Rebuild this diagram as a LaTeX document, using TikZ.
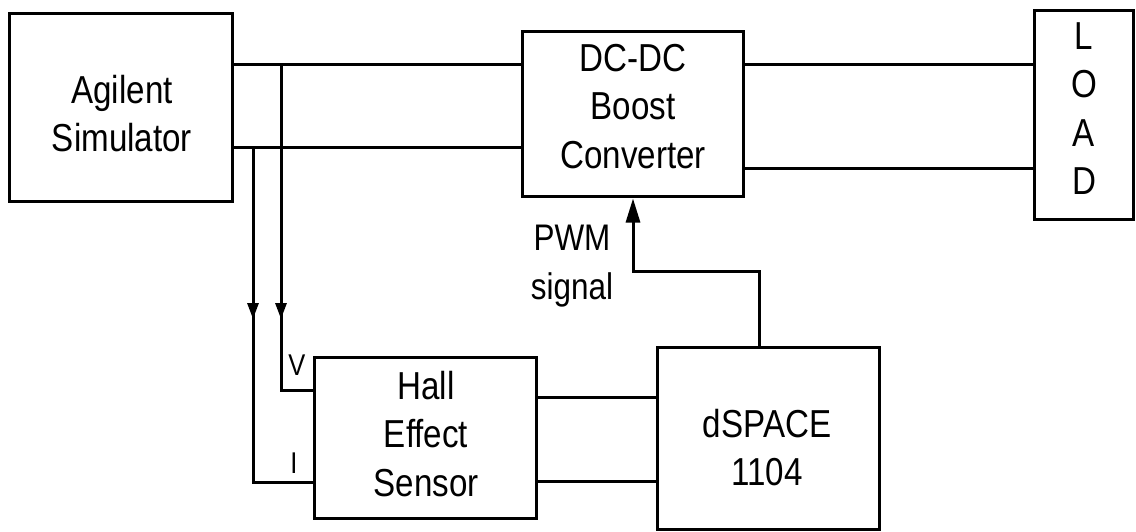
\documentclass[tikz,border=0pt]{standalone}
\usepackage{fontspec}
\setmainfont{Liberation Sans}[FakeStretch=0.85]
\usetikzlibrary{arrows.meta}
\begin{document}
\begin{tikzpicture}[x=1pt,y=-1pt,
  box/.style={draw,line width=3pt,inner sep=0pt},
  wire/.style={line width=3pt},
  lbl/.style={inner sep=0pt,align=center,font=\fontsize{39}{48.5}\selectfont},
  lbltwo/.style={inner sep=0pt,align=center,font=\fontsize{37}{49}\selectfont},
  small/.style={inner sep=0pt,font=\fontsize{30}{36}\selectfont},
  midarrow/.style={-{Triangle[length=16pt,width=11pt]}},
  pwmarrow/.style={-{Triangle[length=24pt,width=14pt]}}]
\useasboundingbox (0,0) rectangle (1136,532);
\fill[white] (0,0) rectangle (1136,532);

% boxes
\node[box,minimum width=223pt,minimum height=188pt] (ag) at (120.5,108) {};
\node[box,minimum width=221pt,minimum height=165pt] (dc) at (632.5,114.5) {};
\node[box,minimum width=99pt,minimum height=208pt] (load) at (1083.5,115) {};
\node[box,minimum width=222pt,minimum height=161pt] (hall) at (425,437.5) {};
\node[box,minimum width=222pt,minimum height=182pt] (dsp) at (768,438) {};

% texts
\node[lbl,anchor=north] (agT) at (122,75) {Agilent\\Simulator};
\node[lbl,anchor=north] (dcT) at (633,44) {DC-DC\\Boost\\Converter};
\node[lbl,anchor=north] (loadT) at (1084,22) {L\\O\\A\\D};
\node[lbl,anchor=north] (hallT) at (426,371) {Hall\\Effect\\Sensor};
\node[lbl,anchor=north] (dspT) at (767,409) {dSPACE\\1104};
\node[lbltwo,anchor=north] (pwmT) at (572,225) {PWM\\signal};
\node[small] (vT) at (297,365) {V};
\node[small] (iT) at (294,463) {I};

% level coordinates
\coordinate (yt) at (0,65);
\coordinate (yb) at (0,148);
\coordinate (yr) at (0,169);
\coordinate (vx) at (281,0);
\coordinate (ix) at (253,0);
\coordinate (vin) at (0,390);
\coordinate (iin) at (0,482);
\coordinate (h1) at (0,397);
\coordinate (h2) at (0,481);
\coordinate (arrA) at (0,300);
\coordinate (arrB) at (0,319);
\coordinate (px) at (759,0);
\coordinate (qx) at (633,0);
\coordinate (py) at (0,271);

% main power lines
\draw[wire] (ag.east |- yt) -- (dc.west |- yt);
\draw[wire] (ag.east |- yb) -- (dc.west |- yb);
\draw[wire] (dc.east |- yt) -- (load.west |- yt);
\draw[wire] (dc.east |- yr) -- (load.west |- yr);

% sensing lines
\draw[wire] (vx |- yt) -- (vx |- vin) -- (hall.west |- vin);
\draw[wire,midarrow] (vx |- arrA) -- (vx |- arrB);
\draw[wire] (ix |- yb) -- (ix |- iin) -- (hall.west |- iin);
\draw[wire,midarrow] (ix |- arrA) -- (ix |- arrB);

% hall to dspace
\draw[wire] (hall.east |- h1) -- (dsp.west |- h1);
\draw[wire] (hall.east |- h2) -- (dsp.west |- h2);

% PWM
\draw[wire,pwmarrow] (px |- dsp.north) -- (px |- py) -- (qx |- py) -- (qx |- dc.south);
\end{tikzpicture}
\end{document}
